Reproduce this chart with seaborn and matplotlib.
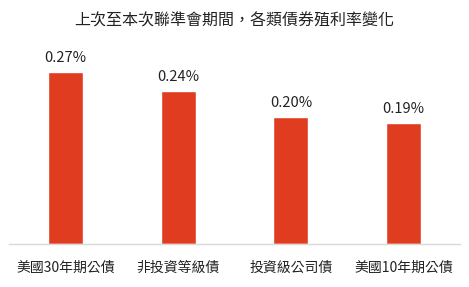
import matplotlib
matplotlib.use("Agg")
import matplotlib.pyplot as plt
import seaborn as sns
import pandas as pd

categories = ["美國30年期公債", "非投資等級債", "投資級公司債", "美國10年期公債"]
values = [0.27, 0.24, 0.20, 0.19]
labels = ["0.27%", "0.24%", "0.20%", "0.19%"]
title = "上次至本次聯準會期間，各類債券殖利率變化"

sns.set_theme(style="white")
plt.rcParams['font.family'] = ['Noto Sans CJK TC', 'DejaVu Sans']

df = pd.DataFrame({"cat": categories, "val": values})

fig = plt.figure(figsize=(4.69, 2.87), dpi=100)
ax = fig.add_axes([9/469, 1 - 244/287, 451/469, (244 - 40)/287])
sns.barplot(data=df, x="cat", y="val", color="#E03C1F", width=0.31, ax=ax, saturation=1)
ax.set_xlim(-0.5, 3.5)
ax.set_ylim(0, 0.27 * (204 / 172))
for i, (v, t) in enumerate(zip(values, labels)):
    ax.annotate(t, (i, v), xytext=(0, 5), textcoords="offset points", ha="center", va="bottom",
                fontsize=10.5, color="#222222")
ax.set_xlabel("")
ax.set_ylabel("")
ax.set_yticks([])
for s in ["top", "left", "right"]:
    ax.spines[s].set_visible(False)
ax.spines["bottom"].set_color("#D9D9D9")
ax.spines["bottom"].set_linewidth(1)
ax.tick_params(axis="x", length=0, pad=12, labelsize=10, colors="#222222")
fig.text(234/469, 1 - 21/287, title, ha="center", va="center", fontsize=11.5, color="#222222")
fig.savefig("out.png", dpi=100)
